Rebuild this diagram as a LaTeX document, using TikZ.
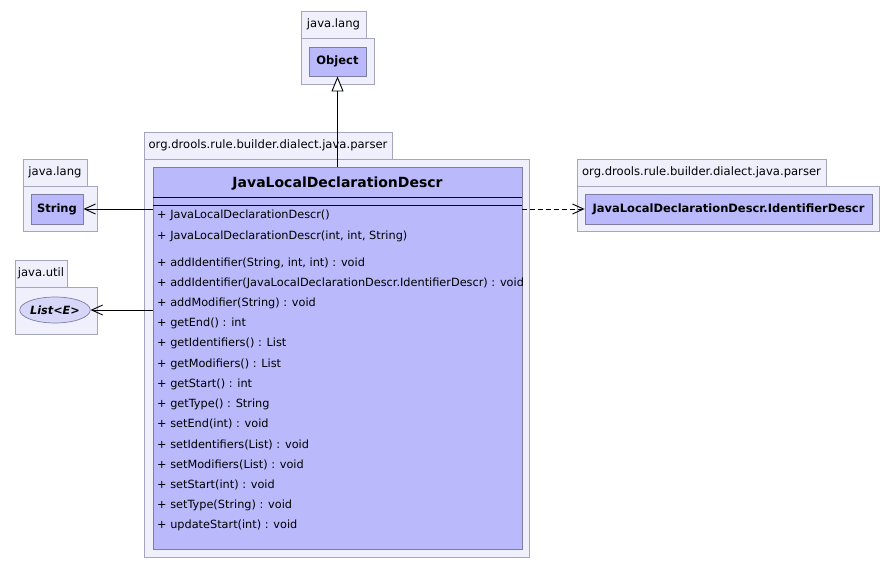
\documentclass[tikz,border=0pt]{standalone}
\usepackage{fontspec}
\setmainfont{DejaVu Sans}
\usetikzlibrary{arrows.meta,shapes.geometric}
\definecolor{pkgfill}{RGB}{240,240,252}
\definecolor{pkgline}{RGB}{165,165,190}
\definecolor{clsfill}{RGB}{185,185,252}
\definecolor{clsline}{RGB}{125,125,165}
\definecolor{ifcfill}{RGB}{214,214,248}
\tikzset{
  pkgtab/.style={draw=pkgline, fill=pkgfill, line width=0.9pt, inner sep=0pt,
    font=\fontsize{11.6}{13}\selectfont},
  pkgbody/.style={draw=pkgline, fill=pkgfill, line width=0.9pt, inner sep=0pt},
  clsbox/.style={draw=clsline, fill=clsfill, line width=0.9pt, inner sep=0pt,
    font=\fontsize{11.5}{13}\bfseries\selectfont},
  ifcbox/.style={ellipse, draw=clsline, fill=ifcfill, line width=0.7pt, inner sep=0pt,
    font=\fontsize{11.3}{13}\bfseries\itshape\selectfont},
  member/.style={anchor=base west, inner sep=0pt, font=\fontsize{11.3}{13}\selectfont},
  conn/.style={line width=0.9pt},
  assoc/.style={conn, -{Straight Barb[length=11pt, width=10pt, line width=0.9pt]}},
  depend/.style={conn, dash pattern=on 5pt off 3pt, -{Straight Barb[length=11pt, width=10pt, line width=0.9pt]}},
  extends/.style={conn, -{Triangle[open, length=15pt, width=12pt, line width=0.9pt, fill=white]}}
}
\begin{document}
\begin{tikzpicture}[x=1pt, y=-1pt]
\useasboundingbox (0,0) rectangle (896,569);
\fill[white] (0,0) rectangle (896,569);

% java.lang : Object
\node[pkgtab, minimum width=65pt, minimum height=27pt] (objtab) at (333.5,24.5) {java.lang};
\node[pkgbody, minimum width=73pt, minimum height=46pt] (objpkg) at (337.5,61) {};
\node[clsbox, minimum width=57pt, minimum height=29pt] (object) at (337.5,61.5) {Object};

% java.lang : String
\node[pkgtab, minimum width=64pt, minimum height=27pt] (strtab) at (55,172.5) {java.lang};
\node[pkgbody, minimum width=74pt, minimum height=45pt] (strpkg) at (60,208.5) {};
\node[clsbox, minimum width=52pt, minimum height=30pt] (string) at (57,209) {String};

% java.util : List<E>
\node[pkgtab, minimum width=52pt, minimum height=27pt] (listtab) at (41,273.5) {java.util};
\node[pkgbody, minimum width=82pt, minimum height=47pt] (listpkg) at (56,310.5) {};
\node[ifcbox, minimum width=64pt, minimum height=26pt] (list) at (55,310) {List<E>};

% parser package : IdentifierDescr
\node[pkgtab, minimum width=249pt, minimum height=27pt] (idtab) at (701.5,172.5) {org.drools.rule.builder.dialect.java.parser};
\node[pkgbody, minimum width=302pt, minimum height=45pt] (idpkg) at (728,208.5) {};
\node[clsbox, minimum width=287pt, minimum height=30pt] (ident) at (728.5,209) {JavaLocalDeclarationDescr.IdentifierDescr};

% parser package : JavaLocalDeclarationDescr
\node[pkgtab, minimum width=248pt, minimum height=27pt] (maintab) at (268,145.5) {org.drools.rule.builder.dialect.java.parser};
\node[pkgbody, minimum width=385pt, minimum height=398pt] (mainpkg) at (336.5,358) {};
\node[clsbox, minimum width=369pt, minimum height=382pt] (main) at (337.5,358) {};
\node[inner sep=0pt, font=\fontsize{14}{16}\bfseries\selectfont] (title) at (337.5,184) {JavaLocalDeclarationDescr};
\draw[line width=0.9pt] (main.west |- 0,197) -- (main.east |- 0,197);
\draw[line width=0.9pt] (main.west |- 0,205) -- (main.east |- 0,205);

\node[member] (m1) at (157,219) {+ JavaLocalDeclarationDescr()};
\node[member] (m2) at (157,240) {+ JavaLocalDeclarationDescr(int, int, String)};
\foreach \txt [count=\i from 0] in {
  {+ addIdentifier(String, int, int) : void},
  {+ addIdentifier(JavaLocalDeclarationDescr.IdentifierDescr) : void},
  {+ addModifier(String) : void},
  {+ getEnd() : int},
  {+ getIdentifiers() : List},
  {+ getModifiers() : List},
  {+ getStart() : int},
  {+ getType() : String},
  {+ setEnd(int) : void},
  {+ setIdentifiers(List) : void},
  {+ setModifiers(List) : void},
  {+ setStart(int) : void},
  {+ setType(String) : void},
  {+ updateStart(int) : void}}
  \node[member] (op\i) at (157,266+20.23*\i) {\txt};

% relations
\draw[extends] (main.north -| object) -- (object.south);
\draw[assoc] (main.west |- string) -- (string.east);
\draw[assoc] (main.west |- list) -- (list.east);
\draw[depend] (main.east |- ident) -- (ident.west);
\end{tikzpicture}
\end{document}
